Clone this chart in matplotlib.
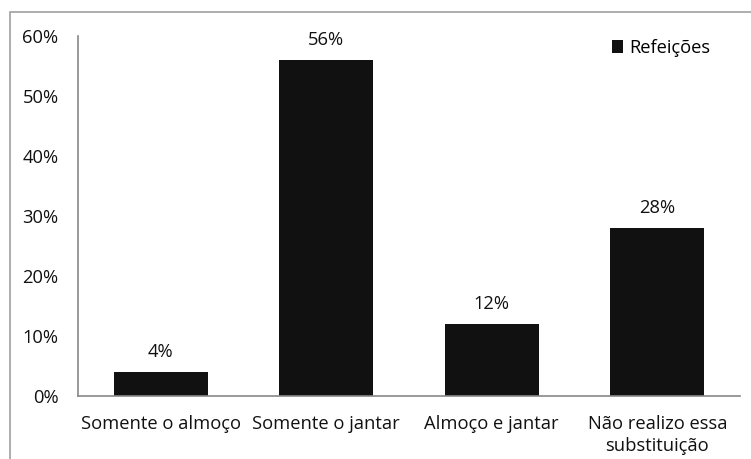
import matplotlib.pyplot as plt
from matplotlib.patches import Rectangle

categorias = ["Somente o almoço", "Somente o jantar", "Almoço e jantar", "Não realizo essa\nsubstituição"]
valores = [4, 56, 12, 28]
rotulos = ["4%", "56%", "12%", "28%"]
ticks_y = [0, 10, 20, 30, 40, 50, 60]

plt.rcParams["font.family"] = ["Open Sans", "DejaVu Sans"]
fs = 13.2

fig = plt.figure(figsize=(7.51, 4.59), dpi=100)
W, H = 751, 459
ax = fig.add_axes([78 / W, 1 - 396 / H, 662 / W, 360 / H])

# moldura do gráfico (cortada à direita e embaixo)
fig.patches.append(Rectangle((10 / W, -0.1), 1.2, 1 - 12 / H + 0.1,
                             transform=fig.transFigure, fill=False,
                             edgecolor="#a0a0a0", linewidth=1.2))

x = list(range(len(categorias)))
ax.bar(x, valores, width=0.57, color="#111111", label="Refeições")
for xi, v, r in zip(x, valores, rotulos):
    ax.text(xi, v + 1.8, r, ha="center", va="bottom", fontsize=fs, color="#111111")

ax.set_xlim(-0.5, len(categorias) - 0.5)
ax.set_ylim(0, 60)
ax.set_yticks(ticks_y)
ax.set_yticklabels([f"{t}%" for t in ticks_y])
ax.set_xticks(x)
ax.set_xticklabels(categorias, linespacing=1.25)
ax.tick_params(length=0, labelsize=fs, colors="#111111")
ax.tick_params(axis="y", pad=14)
ax.tick_params(axis="x", pad=14)

for s in ["top", "right"]:
    ax.spines[s].set_visible(False)
for s in ["left", "bottom"]:
    ax.spines[s].set_color("#888888")
    ax.spines[s].set_linewidth(1.2)

ax.legend(loc="center left", bbox_to_anchor=(0.807, 0.967), frameon=False,
          borderaxespad=0, borderpad=0,
          fontsize=fs, handlelength=0.6, handleheight=0.65, handletextpad=0.35)

fig.savefig("out.png", dpi=100)
